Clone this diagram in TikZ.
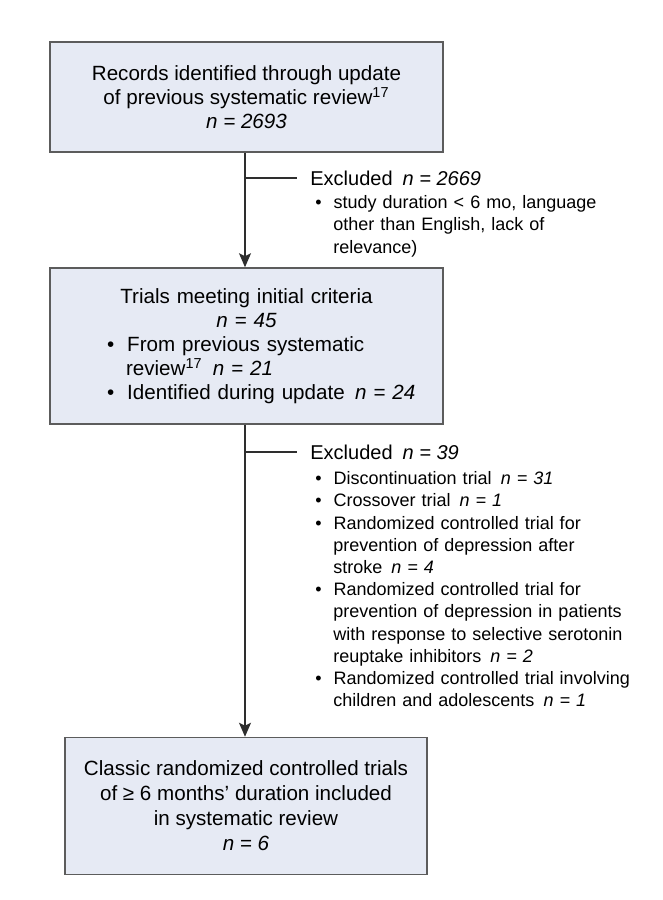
\documentclass[tikz,border=0pt]{standalone}
\usepackage{fontspec}
\setmainfont{Liberation Sans}
\usepackage{tikz}
\usetikzlibrary{arrows,arrows.meta}

\definecolor{boxfill}{HTML}{E6EAF4}
\definecolor{boxline}{HTML}{5C5C5C}
\definecolor{linecol}{HTML}{2E2E2E}

\newcommand{\nn}[1]{\textit{n~=~#1}}
% #1 = left margin of the items, #2 = bullet to text
\newenvironment{bullets}[2]{\begin{list}{\textbullet}{\leftmargin=#1\rightmargin=0pt\labelwidth=3pt\labelsep=\dimexpr#2-3pt\relax\itemsep=0pt\topsep=0pt\parsep=0pt\partopsep=0pt\itemindent=0pt}}{\end{list}}

\begin{document}
\begin{tikzpicture}[x=0.5pt,y=-0.5pt,
stagebox/.style={draw=boxline,fill=boxfill,line width=0.75pt,font=\fontsize{10.3}{12}\selectfont},
exhead/.style={anchor=west,inner xsep=6.5pt,inner ysep=0pt,font=\fontsize{10}{12}\selectfont},
exlist/.style={anchor=north west,inner sep=0pt,text width=170pt,align=left,font=\fontsize{9}{11.1}\selectfont},
arrow/.style={-{Stealth[length=7pt,width=6pt,inset=1.5pt]},draw=linecol,fill=linecol,line width=0.75pt},
branch/.style={draw=linecol,line width=0.6pt} ]

\useasboundingbox (0,0) rectangle (663,900);

\node[stagebox,align=center,minimum width=196.5pt,minimum height=55pt](R) at (246.5,97) {Records identified through update\\ of previous systematic review\textsuperscript{17}\\ \nn{2693}};

\node[stagebox,align=left,text width=175pt,minimum width=196.5pt,minimum height=78pt](T) at (246.5,346) {{\centering Trials meeting initial criteria\\ \nn{45}\par}
\begin{bullets}{27.25pt}{9.5pt}
\item From previous systematic\newline review\textsuperscript{17}\enspace\nn{21}
\item Identified during update\enspace\nn{24}
\end{bullets}};

\node[stagebox,align=center,minimum width=181pt,minimum height=68.5pt,font=\fontsize{10.3}{12.5}\selectfont](C) at (246,806) {Classic randomized controlled trials\\ of ≥ 6 months’ duration included\\ in systematic review\\ \nn{6}};

% first exclusion
\node[exhead](X1) at (297,178) {Excluded\enspace\nn{2669}};

\node[exlist](L1) at (315,186) {\begin{bullets}{9pt}{9pt}
\item study duration < 6 mo, language\newline other than English, lack of\newline relevance)
\end{bullets}};

% second exclusion
\node[exhead](X2) at (297,452) {Excluded\enspace\nn{39}};

\node[exlist](L2) at (315,462) {\begin{bullets}{9pt}{9pt}
\item Discontinuation trial\enspace\nn{31}
\item Crossover trial\enspace\nn{1}
\item Randomized controlled trial for\newline prevention of depression after\newline stroke\enspace\nn{4}
\item Randomized controlled trial for\newline prevention of depression in patients\newline with response to selective serotonin\newline reuptake inhibitors\enspace\nn{2}
\item Randomized controlled trial involving\newline children and adolescents\enspace\nn{1}
\end{bullets}};

\coordinate (S1) at (245,178);
\coordinate (S2) at (245,452);

\draw[arrow] (R.south -| S1) -- (T.north -| S1);

\draw[arrow] (T.south -| S2) -- (C.north -| S2);

\draw[branch] (S1) -- (X1.west);

\draw[branch] (S2) -- (X2.west);
\end{tikzpicture}
\end{document}
